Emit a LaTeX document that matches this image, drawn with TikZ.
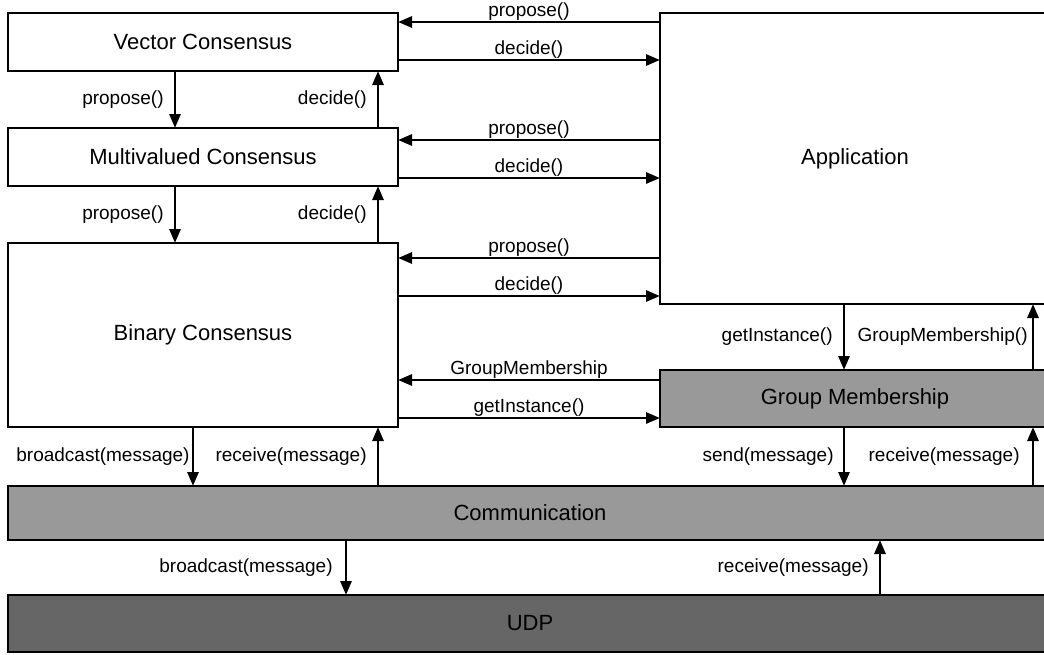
\documentclass[tikz,border=0pt]{standalone}
\usepackage{fontspec}
\setmainfont{Liberation Sans}
\usetikzlibrary{arrows.meta}
\definecolor{gmgray}{HTML}{999999}
\definecolor{udpgray}{HTML}{666666}
\begin{document}
\begin{tikzpicture}[x=1pt,y=-1pt,
  box/.style={draw=black, line width=1.1pt, fill=white, outer sep=0pt, inner sep=0pt, anchor=north west,
    font=\fontsize{22}{26}\selectfont, text=black},
  flow/.style={line width=2.8pt, -{Triangle[length=14pt,width=11pt]}},
  hl/.style={above, inner sep=0.4pt, font=\fontsize{19}{23}\selectfont},
  vl/.style={left, inner sep=0pt, xshift=-10pt, font=\fontsize{19}{23}\selectfont}]
\useasboundingbox (0,0) rectangle (1044,654);
\clip (0,0) rectangle (1044,654);
% boxes
\node[box, minimum width=390pt, minimum height=58pt] (vec) at (8,13) {Vector Consensus};
\node[box, minimum width=390pt, minimum height=58pt] (mul) at (8,128) {Multivalued Consensus};
\node[box, minimum width=390pt, minimum height=184pt] (bin) at (8,243) {Binary Consensus};
\node[box, minimum width=390pt, minimum height=291pt] (app) at (660,13) {Application};
\node[box, fill=gmgray, minimum width=390pt, minimum height=57pt] (gm) at (660,370) {Group Membership};
\node[box, fill=gmgray, minimum width=1044pt, minimum height=54pt] (com) at (8,486) {Communication};
\node[box, fill=udpgray, minimum width=1044pt, minimum height=57pt] (udp) at (8,595) {UDP};
% horizontal arrows
\draw[flow] (app.west |- 0,22) -- node[hl] {propose()} (vec.east |- 0,22);
\draw[flow] (vec.east |- 0,60) -- node[hl] {decide()} (app.west |- 0,60);
\draw[flow] (app.west |- 0,140) -- node[hl] {propose()} (mul.east |- 0,140);
\draw[flow] (mul.east |- 0,178) -- node[hl] {decide()} (app.west |- 0,178);
\draw[flow] (app.west |- 0,258) -- node[hl] {propose()} (bin.east |- 0,258);
\draw[flow] (bin.east |- 0,296) -- node[hl] {decide()} (app.west |- 0,296);
\draw[flow] (gm.west |- 0,380) -- node[hl] {GroupMembership} (bin.east |- 0,380);
\draw[flow] (bin.east |- 0,418) -- node[hl] {getInstance()} (gm.west |- 0,418);
% vertical arrows
\draw[flow] (vec.south -| 175,0) -- node[vl] {propose()} (mul.north -| 175,0);
\draw[flow] (mul.north -| 378,0) -- node[vl] {decide()} (vec.south -| 378,0);
\draw[flow] (mul.south -| 175,0) -- node[vl] {propose()} (bin.north -| 175,0);
\draw[flow] (bin.north -| 378,0) -- node[vl] {decide()} (mul.south -| 378,0);
\draw[flow] (app.south -| 844,0) -- node[vl] {getInstance()} (gm.north -| 844,0);
\draw[flow] (gm.north -| 1033,0) -- node[vl, xshift=6pt] {GroupMembership()} (app.south -| 1033,0);
\draw[flow] (gm.south -| 844,0) -- node[vl, xshift=1pt] {send(message)} (com.north -| 844,0);
\draw[flow] (com.north -| 1033,0) -- node[vl, xshift=-2pt] {receive(message)} (gm.south -| 1033,0);
\draw[flow] (bin.south -| 193,0) -- node[vl, xshift=8pt] {broadcast(message)} (com.north -| 193,0);
\draw[flow] (com.north -| 378,0) -- node[vl] {receive(message)} (bin.south -| 378,0);
\draw[flow] (com.south -| 346,0) -- node[vl, xshift=-2pt] {broadcast(message)} (udp.north -| 346,0);
\draw[flow] (udp.north -| 880,0) -- node[vl] {receive(message)} (com.south -| 880,0);
\end{tikzpicture}
\end{document}
